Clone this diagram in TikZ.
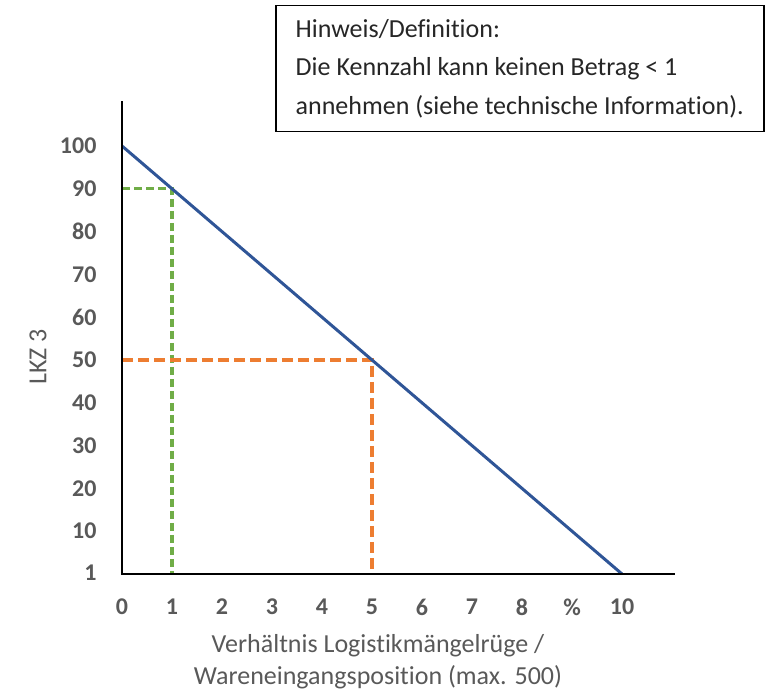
\documentclass[tikz,border=0pt]{standalone}
\usepackage{fontspec}
\setmainfont{Carlito}[Ligatures={NoCommon}]
\definecolor{lkzblue}{RGB}{47,85,151}
\definecolor{lkzgreen}{RGB}{112,173,71}
\definecolor{lkzorange}{RGB}{237,125,49}
\definecolor{labelgray}{RGB}{89,89,89}

\begin{document}
\begin{tikzpicture}[x=1pt,y=1pt,
    axisline/.style={black, line width=2.5pt},
    kennlinie/.style={lkzblue, line width=3pt},
    helpline/.style={line width=3.2pt},
    ticklabel/.style={labelgray, font=\fontsize{24}{24}\selectfont\bfseries},
    axislabel/.style={labelgray, font=\fontsize{26}{32}\selectfont, align=center}]
    \useasboundingbox (0,0) rectangle (777,692);

    % Parameters
    \def\xzero{122}
    \def\yzero{118}
    \def\xunit{50}
    \def\yunit{4.28}

    \begin{scope}[shift={(\xzero,\yzero)}, x=\xunit pt, y=\yunit pt]
        % Axis ends
        \coordinate (origin) at (0,0);
        \coordinate (ytop) at (0,110.5);
        \coordinate (xend) at (11.06,0);

        % Kennlinie
        \coordinate (kstart) at (0,100);
        \coordinate (kend) at (10,0);

        % Reading examples
        \coordinate (yninety) at (0,90);
        \coordinate (pone) at (1,90);
        \coordinate (xone) at (1,0);
        \coordinate (yfifty) at (0,50);
        \coordinate (pfive) at (5,50);
        \coordinate (xfive) at (5,0);

        \draw[helpline, lkzgreen, dash pattern=on 8pt off 4pt] (yninety) -- (pone) -- (xone);
        \draw[helpline, lkzorange, dash pattern=on 11pt off 5pt] (yfifty) -- (pfive) -- (xfive);
        \draw[kennlinie] (kstart) -- (kend);
        \draw[axisline] (ytop) -- (origin) -- (xend);

        % Tick labels
        \foreach \val in {10,20,...,100} {
            \node[ticklabel, anchor=east] (ylab\val) at (-0.44,\val) {\val};
        }
        \node[ticklabel, anchor=east] (ylabone) at (-0.44,0.3) {1};
        \foreach \i/\txt in {0/0,1/1,2/2,3/3,4/4,5/5,6/6,7/7,8/8,9/\%,10/10} {
            \node[ticklabel] (xlab\i) at (\i,-7.7) {\txt};
        }
    \end{scope}

    % Labels
    \node[axislabel, rotate=90] (ylabel) at (38,335) {LKZ 3};
    \node[axislabel] (xlabel) at (378,30) {Verhältnis Logistikmängelrüge /\\Wareneingangsposition (max. 500)};

    % Note
    \node[draw, line width=1.5pt, anchor=north west, minimum width=488pt,
        minimum height=126pt, align=left, text=black!85,
        font=\fontsize{26}{38.5}\selectfont] (hinweis) at (275,687)
        {Hinweis/Definition:\\Die Kennzahl kann keinen Betrag < 1\\annehmen (siehe technische Information).};
\end{tikzpicture}
\end{document}
